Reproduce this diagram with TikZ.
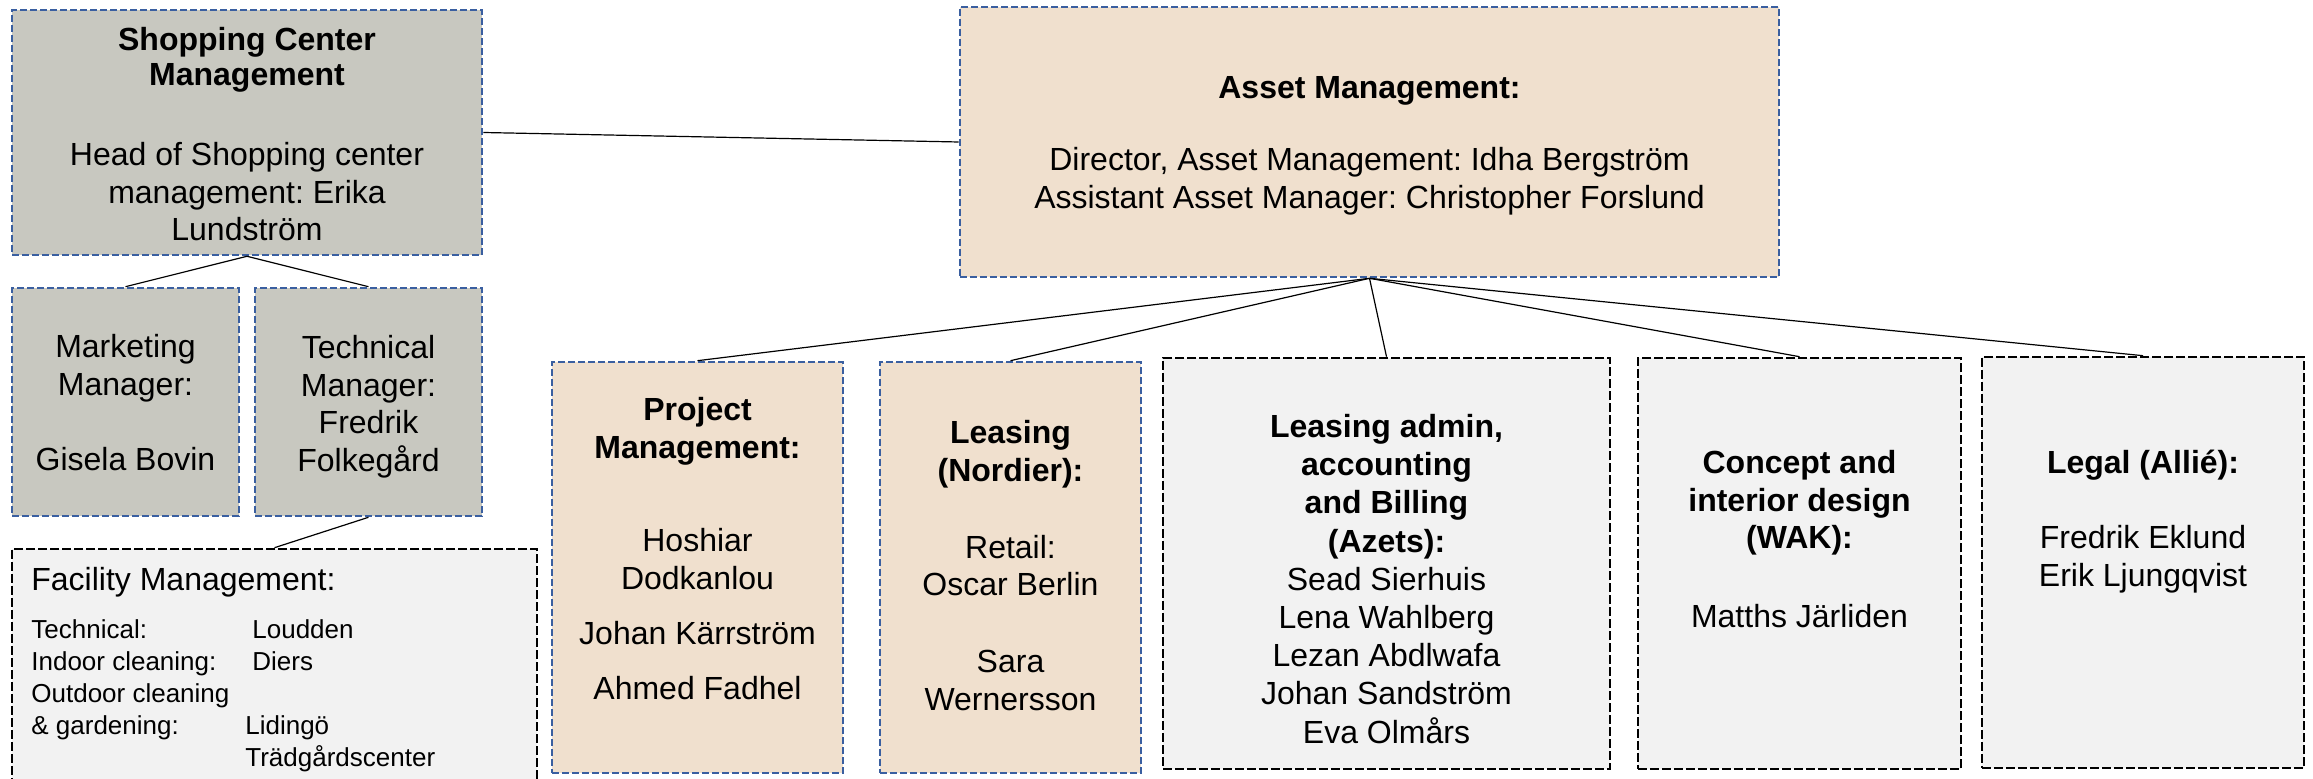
\documentclass[tikz,border=0pt]{standalone}
\usepackage{fontspec}
\setmainfont{Liberation Sans}
\usetikzlibrary{positioning}
\frenchspacing

\definecolor{scgrey}{RGB}{200,200,192}
\definecolor{ambeige}{RGB}{240,224,206}
\definecolor{extgrey}{RGB}{242,242,242}
\definecolor{dashblue}{RGB}{58,95,160}

\begin{document}
\begin{tikzpicture}[x=0.5pt,y=-0.5pt,
	box/.style={rectangle,inner sep=0pt},
	ownbox/.style={box,draw=dashblue,line width=1.3pt,dash pattern=on 3.5pt off 1.5pt},
	extbox/.style={box,draw=black,line width=1.3pt,dash pattern=on 4.5pt off 1.5pt,fill=extgrey},
	boxtext/.style={inner sep=0pt,anchor=north,align=center,font=\fontsize{16}{18.8}\selectfont},
	link/.style={draw=black,line width=0.6pt}]
	\useasboundingbox (0,0) rectangle (2313,779);
	% shopping center side
	\node[ownbox,fill=scgrey,minimum width=235pt,minimum height=122.5pt] (shop) at (247,132.5) {};
	\node[ownbox,fill=scgrey,minimum width=113.5pt,minimum height=114pt] (mkt) at (125.5,402) {};
	\node[ownbox,fill=scgrey,minimum width=113.5pt,minimum height=114pt] (tech) at (368.5,402) {};
	\node[extbox,minimum width=262.5pt,minimum height=140.5pt] (fm) at (274.5,689.5) {};
	% asset management side
	\node[ownbox,fill=ambeige,minimum width=409.5pt,minimum height=135pt] (asset) at (1369.5,142) {};
	\node[ownbox,fill=ambeige,minimum width=145.5pt,minimum height=205.5pt] (proj) at (697.5,567.5) {};
	\node[ownbox,fill=ambeige,minimum width=130.5pt,minimum height=205.5pt] (nord) at (1010.5,567.5) {};
	\node[extbox,minimum width=223.5pt,minimum height=205.5pt] (ladm) at (1386.5,563.5) {};
	\node[extbox,minimum width=161.5pt,minimum height=205.5pt] (conc) at (1799.5,563.5) {};
	\node[extbox,minimum width=161pt,minimum height=205.5pt] (legal) at (2143,562.5) {};

	\node[boxtext] (shopt) at (247,23.7) {\strut\textbf{Shopping Center}\\[-1.3pt]\textbf{Management}\\[21.2pt]Head of Shopping center\\management: Erika\\Lundström};
	\node[boxtext] (mktt) at (125.5,330.7) {\strut Marketing\\Manager:\\[18.9pt]Gisela Bovin};
	\node[boxtext] (techt) at (368.5,331.7) {\strut Technical\\Manager:\\Fredrik\\Folkegård};
	\node[boxtext,anchor=north west,align=left] (fmt) at (31,563.7) {\strut Facility Management:};
	\node[boxtext,anchor=north west,align=left,font=\fontsize{13}{16}\selectfont] (fmlist) at (31,615.6)
		{\strut\makebox[110.5pt][l]{Technical:}Loudden\\\makebox[110.5pt][l]{Indoor cleaning:}Diers\\Outdoor cleaning\\\makebox[107pt][l]{\& gardening:}Lidingö\\\makebox[107pt][l]{}Trädgårdscenter};
	\node[boxtext] (assett) at (1369.5,71.7) {\strut\textbf{Asset Management:}\\[17.2pt]Director, Asset Management: Idha Bergström\\Assistant Asset Manager: Christopher Forslund};
	\node[boxtext] (projt) at (697.5,393.7) {\strut\textbf{Project}\\\textbf{Management:}\\[27.9pt]Hoshiar\\Dodkanlou\\[8.9pt]Johan Kärrström\\[8.7pt]Ahmed Fadhel};
	\node[boxtext] (nordt) at (1010.5,417.2) {\strut\textbf{Leasing}\\\textbf{(Nordier):}\\[19.6pt]Retail:\\Oscar Berlin\\[19.6pt]Sara\\Wernersson};
	\node[boxtext,font=\fontsize{16}{19.1}\selectfont] (ladmt) at (1386.5,410.3) {\strut\textbf{Leasing admin,}\\\textbf{accounting}\\\textbf{and Billing}\\\textbf{(Azets):}\\Sead Sierhuis\\Lena Wahlberg\\Lezan Abdlwafa\\Johan Sandström\\Eva Olmårs};
	\node[boxtext] (conct) at (1799.5,446.7) {\strut\textbf{Concept and}\\\textbf{interior design}\\\textbf{(WAK):}\\[20.6pt]Matths Järliden};
	\node[boxtext] (legalt) at (2143,446.7) {\strut\textbf{Legal (Allié):}\\[18.7pt]Fredrik Eklund\\Erik Ljungqvist};

	\draw[link] (shop.east) -- (asset.west);
	\draw[link] (shop.south) -- (mkt.north);
	\draw[link] (shop.south) -- (tech.north);
	\draw[link] (tech.south) -- (fm.north);
	\foreach \unit in {proj,nord,ladm,conc,legal}
		\draw[link] (asset.south) -- (\unit.north);
\end{tikzpicture}
\end{document}
